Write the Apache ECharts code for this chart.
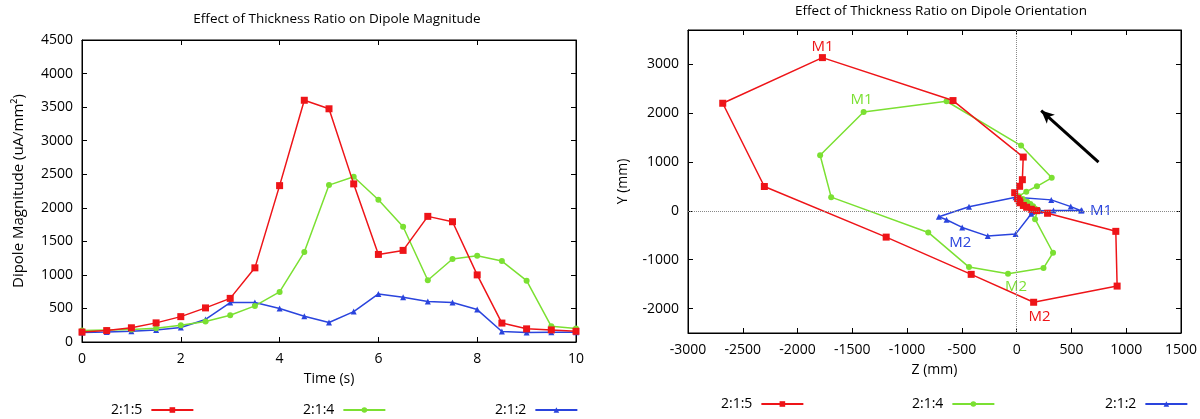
<!DOCTYPE html>
<html><head><meta charset="utf-8">
<script src="https://cdn.jsdelivr.net/npm/echarts@6/dist/echarts.min.js"></script>
<style>html,body{margin:0;padding:0;background:#fff}#c{width:1200px;height:419px}</style>
</head><body><div id="c"></div>
<script>
// ---- Data ----
const seriesNames = ['2:1:5', '2:1:4', '2:1:2'];
const times = [0,0.5,1,1.5,2,2.5,3,3.5,4,4.5,5,5.5,6,6.5,7,7.5,8,8.5,9,9.5,10];
const mag215 = [148,170,212,285,378,508,650,1105,2330,3602,3475,2356,1305,1365,1872,1792,1000,282,196,180,160];
const mag214 = [172,180,187,206,248,305,398,538,746,1340,2338,2463,2119,1718,920,1236,1286,1206,914,233,202];
const mag212 = [142,150,162,180,216,336,588,590,498,385,290,453,716,666,602,588,483,156,142,146,146];

const z215 = [61,30,24,9,-18,27,52,60,-581,-1773,-2683,-2303,-1191,-415,155,917,905,282,182,134,91];
const y215 = [110,165,205,250,371,502,637,1100,2256,3135,2201,498,-538,-1300,-1871,-1540,-420,-50,3,32,73];
const z214 = [165,150,125,95,55,20,88,185,320,40,-640,-1397,-1794,-1693,-807,-435,-79,245,332,168,190];
const y214 = [50,95,140,185,240,300,392,502,676,1336,2242,2024,1138,280,-442,-1151,-1287,-1171,-858,-172,20];
const z212 = [140,150,160,180,215,336,588,594,494,316,-10,-435,-710,-640,-497,-264,-10,134,140,145,148];
const y212 = [-10,-5,0,0,0,5,5,12,86,224,278,84,-122,-183,-340,-517,-476,-60,-20,-10,-5];

// point annotations: index -> text
const notes215 = {9:'M1', 14:'M2'};
const notes214 = {11:'M1', 16:'M2'};
const notes212 = {6:'M1', 14:'M2'};

const arrowFrom = [747, 995];
const arrowTo = [224, 2051];

const magTicks = [0,500,1000,1500,2000,2500,3000,3500,4000,4500];
const orientYTicks = [-2000,-1000,0,1000,2000,3000];

// ---- Styles ----
const colors = ['#ee1418', '#7be032', '#2a44dd'];
const symbols = ['rect', 'circle', 'triangle'];
const symSizes = [7, 6, 6];
const notePos = {
  '0-M1': {position:'top', distance:0, offset:[0,0]},
  '0-M2': {position:'bottom', distance:3, offset:[6,0]},
  '1-M1': {position:'top', distance:2, offset:[-2,0]},
  '1-M2': {position:'bottom', distance:3, offset:[8,0]},
  '2-M1': {position:'right', distance:6, offset:[0,0]},
  '2-M2': {position:'bottom', distance:5, offset:[-2,0]}
};
const FONT = 'Open Sans';
const plain = v => String(v);

function pts(zs, ys, notes, si) {
  return zs.map((z, i) => {
    const item = {value: [z, ys[i]]};
    if (notes[i]) {
      const p = notePos[si + '-' + notes[i]];
      item.label = {show: true, formatter: notes[i], position: p.position, distance: p.distance,
        offset: p.offset, color: colors[si], fontSize: 15, fontFamily: FONT};
    }
    return item;
  });
}

const axisCommon = {
  axisLine: {show: true, onZero: false, lineStyle: {color: '#000', width: 1}},
  axisTick: {show: true, inside: true, length: 5, lineStyle: {color: '#000'}},
  splitLine: {show: false},
  axisLabel: {color: '#000', fontSize: 14, fontFamily: FONT, formatter: plain}
};
function mirror(base, pos) {
  return Object.assign({}, base, {position: pos, name: '', axisLabel: Object.assign({}, base.axisLabel, {show: false})});
}
const nameStyle = {color: '#000', fontSize: 14, fontFamily: FONT};

const xL = Object.assign({}, axisCommon, {type: 'value', gridIndex: 0, min: 0, max: 10, interval: 2,
  name: 'Time (s)', nameLocation: 'middle', nameGap: 30, nameTextStyle: nameStyle,
  axisLabel: Object.assign({}, axisCommon.axisLabel, {margin: 10})});
const yL = Object.assign({}, axisCommon, {type: 'value', gridIndex: 0, min: 0, max: 4500, interval: 500,
  name: 'Dipole Magnitude (uA/mm\u00B2)', nameLocation: 'middle', nameGap: 56,
  nameTextStyle: Object.assign({}, nameStyle, {fontSize: 15}),
  axisLabel: Object.assign({}, axisCommon.axisLabel, {margin: 9, customValues: magTicks}),
  axisTick: Object.assign({}, axisCommon.axisTick, {customValues: magTicks})});
const xR = Object.assign({}, axisCommon, {type: 'value', gridIndex: 1, min: -3000, max: 1500, interval: 500,
  name: 'Z (mm)', nameLocation: 'middle', nameGap: 30, nameTextStyle: nameStyle,
  axisLabel: Object.assign({}, axisCommon.axisLabel, {margin: 10})});
const yR = Object.assign({}, axisCommon, {type: 'value', gridIndex: 1, min: -2500, max: 3700,
  name: 'Y (mm)', nameLocation: 'middle', nameGap: 58, nameTextStyle: nameStyle,
  axisLabel: Object.assign({}, axisCommon.axisLabel, {margin: 9, customValues: orientYTicks}),
  axisTick: Object.assign({}, axisCommon.axisTick, {customValues: orientYTicks})});

const magData = [mag215, mag214, mag212];
const orient = [pts(z215, y215, notes215, 0), pts(z214, y214, notes214, 1), pts(z212, y212, notes212, 2)];

const series = [];
seriesNames.forEach((n, i) => {
  series.push({name: n, type: 'line', xAxisIndex: 0, yAxisIndex: 0,
    data: times.map((t, k) => [t, magData[i][k]]),
    symbol: symbols[i], symbolSize: symSizes[i], showAllSymbol: true,
    lineStyle: {color: colors[i], width: 1.5}, itemStyle: {color: colors[i]}, z: 3 - i});
});
seriesNames.forEach((n, i) => {
  series.push({name: n, type: 'line', xAxisIndex: 2, yAxisIndex: 2,
    data: orient[i], symbol: symbols[i], symbolSize: symSizes[i], showAllSymbol: true,
    lineStyle: {color: colors[i], width: 1.5}, itemStyle: {color: colors[i]}, z: 3 - i});
});
// zero reference lines + arrow
series.push({type: 'line', xAxisIndex: 2, yAxisIndex: 2, data: [], silent: true,
  markLine: {silent: true, symbol: ['none', 'none'], label: {show: false},
    lineStyle: {type: 'dotted', color: '#888', width: 1},
    data: [{xAxis: 0}, {yAxis: 0}]}, z: 1});
series.push({type: 'line', xAxisIndex: 2, yAxisIndex: 2, data: [], silent: true,
  markLine: {silent: true, symbol: ['none', 'arrow'], symbolSize: [9, 13], label: {show: false},
    lineStyle: {type: 'solid', color: '#000', width: 3},
    data: [[{coord: arrowFrom}, {coord: arrowTo}]]}, z: 5});

const legendPos = [
  {left: 106, top: 398}, {left: 298, top: 398}, {left: 490, top: 398},
  {left: 716, top: 392}, {left: 907, top: 392}, {left: 1100, top: 392}
];
const legends = legendPos.map((p, i) => ({
  data: [seriesNames[i % 3]], left: p.left, top: p.top, align: 'right', orient: 'horizontal',
  itemWidth: 42, itemHeight: 7, selectedMode: false,
  textStyle: {color: '#000', fontSize: 14, fontFamily: FONT, padding: [0, 4, 0, 0]}
}));

const option = {
  animation: false,
  backgroundColor: '#fff',
  title: [
    {text: 'Effect of Thickness Ratio on Dipole Magnitude', left: 332, top: 7, textAlign: 'center',
      textStyle: {color: '#000', fontSize: 13.5, fontWeight: 'normal', fontFamily: FONT}},
    {text: 'Effect of Thickness Ratio on Dipole Orientation', left: 936, top: -1, textAlign: 'center',
      textStyle: {color: '#000', fontSize: 13.5, fontWeight: 'normal', fontFamily: FONT}}
  ],
  legend: legends,
  grid: [
    {left: 82, top: 40, width: 494, height: 302, show: true, borderColor: '#000', borderWidth: 1, containLabel: false},
    {left: 688, top: 30, width: 494, height: 303, show: true, borderColor: '#000', borderWidth: 1, containLabel: false}
  ],
  xAxis: [xL, mirror(xL, 'top'), xR, mirror(xR, 'top')],
  yAxis: [yL, mirror(yL, 'right'), yR, mirror(yR, 'right')],
  series: series
};
const chart = echarts.init(document.getElementById('c'), null, {renderer: 'canvas'});
chart.setOption(option);
</script></body></html>
